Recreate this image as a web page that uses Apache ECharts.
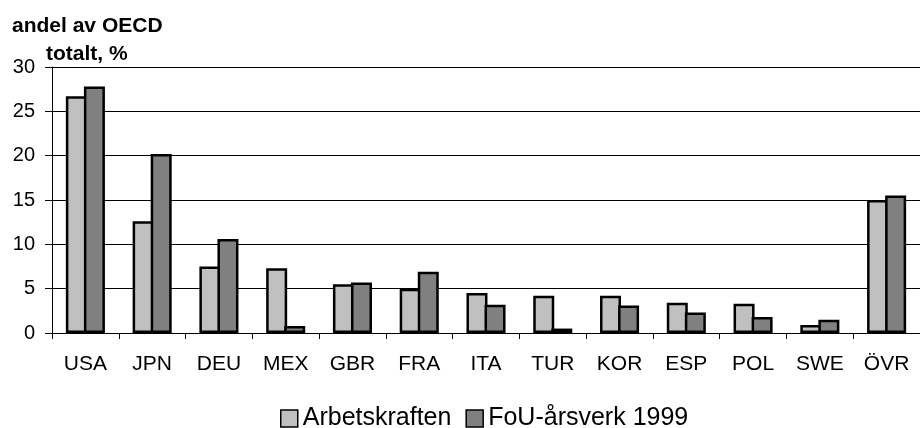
<!DOCTYPE html>
<html>
<head>
<meta charset="utf-8">
<script src="https://cdn.jsdelivr.net/npm/echarts@6/dist/echarts.min.js"></script>
<style>
html,body{margin:0;padding:0;background:#fff;overflow:hidden;}
#chart{width:920px;height:428px;}
</style>
</head>
<body>
<div id="chart"></div>
<script>
const categories = ['USA','JPN','DEU','MEX','GBR','FRA','ITA','TUR','KOR','ESP','POL','SWE','ÖVR'];
const arbetskraften = [26.7, 12.6, 7.5, 7.3, 5.5, 5.0, 4.5, 4.2, 4.2, 3.4, 3.3, 0.9, 15.0];
const fouArsverk = [27.8, 20.2, 10.6, 0.8, 5.7, 6.9, 3.2, 0.5, 3.1, 2.3, 1.8, 1.5, 15.5];
const seriesNames = ['Arbetskraften', 'FoU-årsverk 1999'];
const yTicks = [0, 5, 10, 15, 20, 25, 30];

const FONT = '"Liberation Sans", Arial, sans-serif';
const chart = echarts.init(document.getElementById('chart'), null, {renderer: 'canvas'});
chart.setOption({
  animation: false,
  backgroundColor: '#ffffff',
  title: [
    {text: 'andel av OECD', left: 12, top: 16, padding: 0,
     textStyle: {fontFamily: FONT, fontWeight: 'bold', fontSize: 21, color: '#000'}},
    {text: 'totalt, %', left: 46, top: 44, padding: 0,
     textStyle: {fontFamily: FONT, fontWeight: 'bold', fontSize: 21, color: '#000'}}
  ],
  legend: {
    left: 280, top: 406, padding: 0,
    itemWidth: 17, itemHeight: 17, itemGap: 14,
    icon: 'rect',
    itemStyle: {borderColor: '#000', borderWidth: 1.5},
    textStyle: {fontFamily: FONT, fontSize: 25, color: '#000'},
    data: seriesNames
  },
  grid: {left: 52, top: 67, right: -12, bottom: 95, containLabel: false},
  xAxis: {
    type: 'category',
    data: categories,
    axisLine: {lineStyle: {color: '#000', width: 1}},
    axisTick: {show: true, length: 6, lineStyle: {color: '#000'}},
    axisLabel: {fontFamily: FONT, fontSize: 21, color: '#000', margin: 21}
  },
  yAxis: {
    type: 'value',
    min: yTicks[0], max: yTicks[yTicks.length - 1], interval: 5,
    axisLine: {show: true, lineStyle: {color: '#000', width: 1}},
    axisTick: {show: true, length: 7, lineStyle: {color: '#000'}},
    splitLine: {show: true, lineStyle: {color: '#000', width: 1}},
    axisLabel: {fontFamily: FONT, fontSize: 20, color: '#000', margin: 17}
  },
  series: [
    {name: seriesNames[0], type: 'bar', data: arbetskraften, barWidth: 21, barGap: '-14%',
     itemStyle: {color: '#c0c0c0', borderColor: '#000', borderWidth: 2.5}},
    {name: seriesNames[1], type: 'bar', data: fouArsverk, barWidth: 21, barGap: '-14%',
     itemStyle: {color: '#808080', borderColor: '#000', borderWidth: 2.5}}
  ]
});
</script>
</body>
</html>
